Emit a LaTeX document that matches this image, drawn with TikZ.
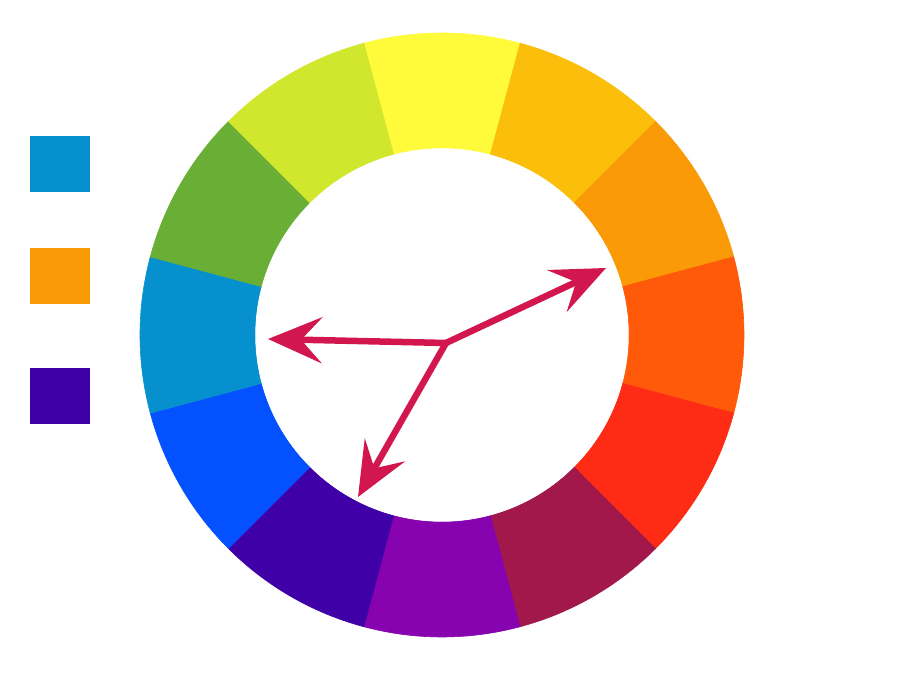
\documentclass[tikz,border=0pt]{standalone}
\usetikzlibrary{arrows.meta,positioning}
\definecolor{wYellow}{HTML}{FFFB3A}
\definecolor{wYellowOrange}{HTML}{FBBE0B}
\definecolor{wOrange}{HTML}{FB9A07}
\definecolor{wRedOrange}{HTML}{FE5A0A}
\definecolor{wRed}{HTML}{FE2C14}
\definecolor{wRedViolet}{HTML}{A2184B}
\definecolor{wViolet}{HTML}{8603AF}
\definecolor{wBlueViolet}{HTML}{3F00A8}
\definecolor{wBlue}{HTML}{0452FF}
\definecolor{wTeal}{HTML}{0790CE}
\definecolor{wGreen}{HTML}{69AE35}
\definecolor{wYellowGreen}{HTML}{D1E72D}
\definecolor{pointer}{HTML}{D2174F}
\tikzset{
  swatch/.style={draw=none, minimum width=60pt, minimum height=56pt, inner sep=0pt},
  pointerline/.style={line width=6.5pt, color=pointer, -{Stealth[length=54pt, width=46pt, inset=21pt]}}
}
\begin{document}
\begin{tikzpicture}[x=1pt, y=1pt]
        \useasboundingbox (0,0) rectangle (900,700);
        \fill[white] (0,0) rectangle (900,700);
        % draw the twelve segments of the wheel
        \begin{scope}[shift={(442,365)}]
        \foreach \c [count=\i] in {wYellow,wYellowOrange,wOrange,wRedOrange,wRed,wRedViolet,wViolet,wBlueViolet,wBlue,wTeal,wGreen,wYellowGreen}
        {
            \pgfmathsetmacro{\a}{90 - 30*(\i-1)}
            \fill[fill=\c, draw=\c, line width=0.6pt] (\a-15:302) arc (\a-15:\a+15:302) -- (\a+15:187) arc (\a+15:\a-15:187) -- cycle;
        }
        \fill[white] (0,0) circle (186.5);
        \end{scope}
        % the swatches
        \node[swatch, fill=wTeal] (swatchTeal) at (60,536) {};
        \node[swatch, fill=wOrange] (swatchOrange) at (60,424) {};
        \node[swatch, fill=wBlueViolet] (swatchViolet) at (60,304) {};
        % draw the pointers
        \coordinate (hub) at (446,357);
        \coordinate (tipOrange) at (606,432);
        \coordinate (tipTeal) at (268,361);
        \coordinate (tipViolet) at (358,203);
        \draw[pointerline] (hub) -- (tipOrange);
        \draw[pointerline] (hub) -- (tipTeal);
        \draw[pointerline] (hub) -- (tipViolet);
    \end{tikzpicture}
\end{document}
